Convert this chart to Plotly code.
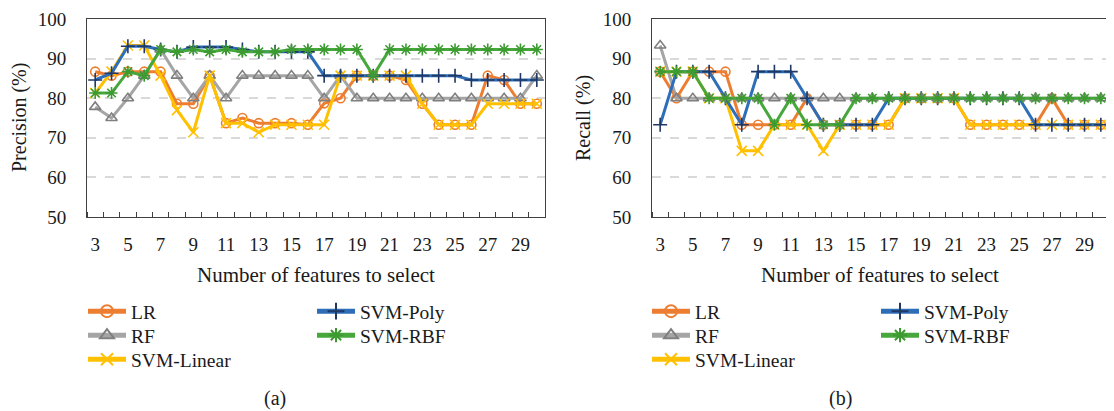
import plotly.graph_objects as go

features = list(range(3, 31))
tick_labels = [str(v) for v in range(3, 31, 2)]
series_names = ["LR", "RF", "SVM-Linear", "SVM-Poly", "SVM-RBF"]

# Precision (%)
prec_lr = [86.7, 85.7, 86.7, 86.7, 86.7, 78.6, 78.6, 85.7, 73.7, 75.0, 73.7, 73.7, 73.7, 73.3,
           78.7, 80.0, 85.7, 85.7, 85.7, 84.6, 78.6, 73.3, 73.3, 73.3, 85.7, 84.6, 78.6, 78.6]
prec_rf = [77.8, 75.0, 80.0, 85.7, 92.3, 85.7, 80.0, 85.7, 80.0, 85.7, 85.7, 85.7, 85.7, 85.7,
           80.0, 85.7, 80.0, 80.0, 80.0, 80.0, 80.0, 80.0, 80.0, 80.0, 80.0, 80.0, 80.0, 85.7]
prec_lin = [81.3, 86.7, 93.3, 93.3, 85.7, 77.0, 71.4, 85.7, 73.7, 73.7, 71.4, 73.3, 73.3, 73.3,
            73.3, 85.7, 85.7, 85.7, 85.7, 85.7, 78.6, 73.3, 73.3, 73.3, 78.6, 78.6, 78.6, 78.6]
prec_poly = [84.6, 86.3, 93.1, 93.1, 92.3, 91.7, 92.9, 92.9, 92.9, 92.3, 91.7, 91.7, 91.7, 91.7,
             85.7, 85.7, 85.7, 85.7, 85.7, 85.7, 85.7, 85.7, 85.7, 84.6, 84.6, 84.6, 84.6, 84.6]
prec_rbf = [81.3, 81.3, 86.7, 85.7, 92.3, 91.7, 92.3, 91.7, 92.3, 91.7, 91.7, 91.7, 92.3, 92.3,
            92.3, 92.3, 92.3, 85.7, 92.3, 92.3, 92.3, 92.3, 92.3, 92.3, 92.3, 92.3, 92.3, 92.3]

# Recall (%)
rec_lr = [86.7, 80.0, 86.7, 86.7, 86.7, 73.3, 73.3, 73.3, 73.3, 80.0, 73.3, 73.3, 73.3, 73.3,
          73.3, 80.0, 80.0, 80.0, 80.0, 73.3, 73.3, 73.3, 73.3, 73.3, 80.0, 73.3, 73.3, 73.3]
rec_rf = [93.3, 80.0, 80.0, 80.0, 80.0, 80.0, 80.0, 80.0, 80.0, 80.0, 80.0, 80.0, 80.0, 80.0,
          80.0, 80.0, 80.0, 80.0, 80.0, 80.0, 80.0, 80.0, 80.0, 80.0, 80.0, 80.0, 80.0, 80.0]
rec_lin = [86.7, 86.7, 86.7, 80.0, 80.0, 66.7, 66.7, 73.3, 73.3, 73.3, 66.7, 73.3, 73.3, 73.3,
           73.3, 80.0, 80.0, 80.0, 80.0, 73.3, 73.3, 73.3, 73.3, 73.3, 73.3, 73.3, 73.3, 73.3]
rec_poly = [73.3, 86.7, 86.7, 86.7, 80.0, 73.3, 86.7, 86.7, 86.7, 80.0, 73.3, 73.3, 73.3, 73.3,
            80.0, 80.0, 80.0, 80.0, 80.0, 80.0, 80.0, 80.0, 80.0, 73.3, 73.3, 73.3, 73.3, 73.3]
rec_rbf = [86.7, 86.7, 86.7, 80.0, 80.0, 80.0, 80.0, 73.3, 80.0, 73.3, 73.3, 73.3, 80.0, 80.0,
           80.0, 80.0, 80.0, 80.0, 80.0, 80.0, 80.0, 80.0, 80.0, 80.0, 80.0, 80.0, 80.0, 80.0]

styles = {
    "LR": dict(line="#ED7D31", marker="#ED7D31", symbol="circle-open", size=9),
    "RF": dict(line="#A5A5A5", marker="#7F7F7F", symbol="triangle-up-open", size=10),
    "SVM-Linear": dict(line="#FFC000", marker="#FFC000", symbol="x-thin-open", size=10),
    "SVM-Poly": dict(line="#2E6DB8", marker="#1F3864", symbol="cross-thin-open", size=10),
    "SVM-RBF": dict(line="#46A83C", marker="#3C9A30", symbol="asterisk-open", size=10),
}

# page body has an 8px margin; lay out in screenshot pixels and convert
OFF = 8
W, H = 1106, 403
FONT = "Liberation Serif"
TXT = "#1a1a1a"


def px(v):
    return (v - OFF) / W


def py(v):
    return 1 - (v - OFF) / H


# legend slot positions (screenshot pixels): column offset from panel left, row y
leg_col = {"LR": 0, "RF": 0, "SVM-Linear": 0, "SVM-Poly": 1, "SVM-RBF": 1}
leg_row = {"LR": 311.5, "RF": 335.5, "SVM-Linear": 359.5, "SVM-Poly": 311.5, "SVM-RBF": 335.5}
panel_leg_x = [(83, 312), (647, 876)]

fig = go.Figure()
legend_layouts = {}
panels = [
    ("x", "y", [prec_lr, prec_rf, prec_lin, prec_poly, prec_rbf]),
    ("x2", "y2", [rec_lr, rec_rf, rec_lin, rec_poly, rec_rbf]),
]
k = 0
for p, (xa, ya, data) in enumerate(panels):
    for name, vals in zip(series_names, data):
        k += 1
        lname = "legend" if k == 1 else f"legend{k}"
        s = styles[name]
        fig.add_trace(go.Scatter(
            x=features, y=vals, name=name, xaxis=xa, yaxis=ya, mode="lines+markers",
            line=dict(color=s["line"], width=3),
            marker=dict(symbol=s["symbol"], size=s["size"], color=s["marker"],
                        line=dict(width=1.6, color=s["marker"])),
            legend=lname, showlegend=True,
        ))
        legend_layouts[lname] = dict(
            x=px(panel_leg_x[p][leg_col[name]]), y=py(leg_row[name]),
            xanchor="left", yanchor="middle", orientation="v",
            bgcolor="rgba(0,0,0,0)", borderwidth=0, itemwidth=38,
            font=dict(family=FONT, size=19.5, color=TXT), itemsizing="constant",
        )

ydom = [py(217), py(19)]
xdom1 = [px(87), px(545)]
xdom2 = [px(652), px(1109)]


def xaxis_cfg(dom, anchor):
    return dict(
        domain=dom, anchor=anchor, range=[2.5, 30.5], automargin=False,
        tickmode="array", tickvals=list(range(3, 31, 2)), ticktext=tick_labels,
        ticks="", showgrid=False, zeroline=False,
        showline=True, mirror=True, linecolor="#404040", linewidth=1,
        minor=dict(tickmode="linear", tick0=2.5, dtick=1, ticks="inside", ticklen=5,
                   tickcolor="#404040", tickwidth=1, showgrid=False),
        tickfont=dict(family=FONT, size=19, color=TXT),
        ticklabelstandoff=10,
    )


def yaxis_cfg(anchor):
    return dict(
        domain=ydom, anchor=anchor, range=[50, 100], tickmode="linear", tick0=50, dtick=10,
        automargin=False,
        ticks="", showgrid=True, gridcolor="#D9D9D9", gridwidth=1.5, griddash="dash",
        zeroline=False, showline=True, mirror=True, linecolor="#404040", linewidth=1,
        tickfont=dict(family=FONT, size=19, color=TXT),
        ticklabelstandoff=16,
    )


fig.update_layout(
    template="none",
    width=W, height=H, margin=dict(l=0, r=0, t=0, b=0),
    paper_bgcolor="white", plot_bgcolor="white",
    font=dict(family=FONT, size=20, color=TXT),
    xaxis=xaxis_cfg(xdom1, "y"), yaxis=yaxis_cfg("x"),
    xaxis2=xaxis_cfg(xdom2, "y2"), yaxis2=yaxis_cfg("x2"),
    showlegend=True,
    **legend_layouts,
)

annots = [
    dict(text="Precision (%)", x=px(19), y=py(118), textangle=-90, size=20),
    dict(text="Recall (%)", x=px(583), y=py(118), textangle=-90, size=20),
    dict(text="Number of features to select", x=px(316), y=py(275), size=21),
    dict(text="Number of features to select", x=px(880), y=py(275), size=21),
    dict(text="(a)", x=px(275), y=py(398), size=20),
    dict(text="(b)", x=px(840), y=py(398), size=20),
]
for a in annots:
    size = a.pop("size")
    fig.add_annotation(xref="paper", yref="paper", showarrow=False, xanchor="center",
                       yanchor="middle", font=dict(family=FONT, size=size, color=TXT), **a)

fig.write_html("out.html")
